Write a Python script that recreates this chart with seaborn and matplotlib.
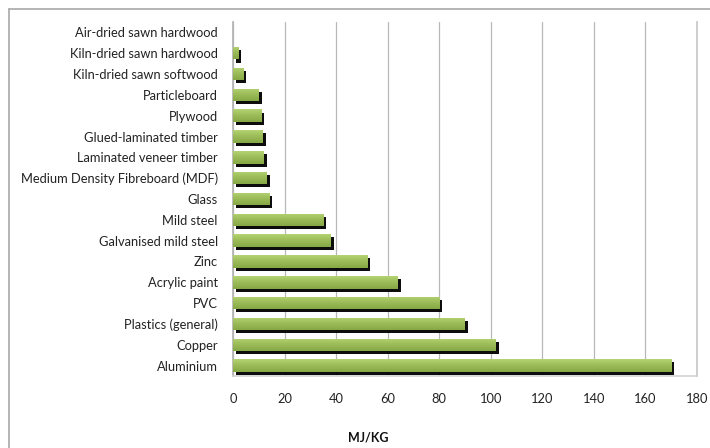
import numpy as np
import pandas as pd
import matplotlib
matplotlib.use("Agg")
import matplotlib.pyplot as plt
import matplotlib.patheffects as pe
from matplotlib.lines import Line2D
import seaborn as sns

materials = [
    "Air-dried sawn hardwood",
    "Kiln-dried sawn hardwood",
    "Kiln-dried sawn softwood",
    "Particleboard",
    "Plywood",
    "Glued-laminated timber",
    "Laminated veneer timber",
    "Medium Density Fibreboard (MDF)",
    "Glass",
    "Mild steel",
    "Galvanised mild steel",
    "Zinc",
    "Acrylic paint",
    "PVC",
    "Plastics (general)",
    "Copper",
    "Aluminium",
]
energy_mj_per_kg = [0, 2, 4, 10, 11, 11.5, 12, 13, 14, 35, 38, 52, 64, 80, 90, 102, 170]
x_ticks = [0, 20, 40, 60, 80, 100, 120, 140, 160, 180]

df = pd.DataFrame({"material": materials, "energy": energy_mj_per_kg})

sns.set_theme(style="white")
plt.rcParams["font.family"] = ["Lato", "DejaVu Sans"]

fig = plt.figure(figsize=(7.1, 4.48), dpi=100)
ax = fig.add_axes([233 / 710, 1 - 376 / 448, (697 - 233) / 710, (376 - 22) / 448])

sns.barplot(data=df, x="energy", y="material", orient="h", color="#9bbb59",
            width=0.6, saturation=1, ax=ax, zorder=3)

# green vertical gradient with a black drop shadow on each bar
grad = np.linspace(0, 1, 64).reshape(-1, 1)
cmap = matplotlib.colors.LinearSegmentedColormap.from_list(
    "olive", ["#b4d372", "#9bbb59", "#86a844"])
for patch in list(ax.patches):
    w = patch.get_width()
    if w <= 0:
        patch.set_visible(False)
        continue
    patch.set_edgecolor("none")
    patch.set_path_effects([pe.SimplePatchShadow(offset=(2.2, -2.2), shadow_rgbFace="black",
                                                 alpha=0.95), pe.Normal()])
    x0, y0 = patch.get_x(), patch.get_y()
    h = patch.get_height()
    im = ax.imshow(grad, cmap=cmap, aspect="auto", extent=(x0, x0 + w, y0 + h, y0),
                   zorder=4, interpolation="bilinear")
    im.set_clip_path(patch)

ax.set_xlim(0, 180)
ax.set_ylim(len(materials) - 0.5, -0.5)
ax.set_xticks(x_ticks)
ax.set_xticklabels([str(t) for t in x_ticks])
ax.set_xlabel("")
ax.set_ylabel("")
ax.xaxis.grid(True, color="#b8b8b8", linewidth=0.9, zorder=0)
ax.yaxis.grid(False)
ax.set_axisbelow(True)
ax.tick_params(axis="x", length=0, pad=12, labelsize=9.3, labelcolor="#222222")
ax.tick_params(axis="y", length=0, pad=11, labelsize=9.3, labelcolor="#222222")

ax.spines["top"].set_visible(False)
ax.spines["left"].set_color("#b4b4b4")
ax.spines["right"].set_color("#c8c8c8")
ax.spines["bottom"].set_color("#d4d4d4")

fig.text(368 / 710, 1 - 437 / 448, "MJ/KG", ha="center", va="center",
         fontsize=9, fontweight="bold", color="#111111")

# chart frame (top and left edges)
fig.add_artist(Line2D([9 / 710, 1], [1 - 9 / 448, 1 - 9 / 448], color="#a8a8a8", lw=1.2,
                      transform=fig.transFigure))
fig.add_artist(Line2D([9 / 710, 9 / 710], [0, 1 - 9 / 448], color="#a8a8a8", lw=1.2,
                      transform=fig.transFigure))

fig.savefig("out.png", dpi=100)
